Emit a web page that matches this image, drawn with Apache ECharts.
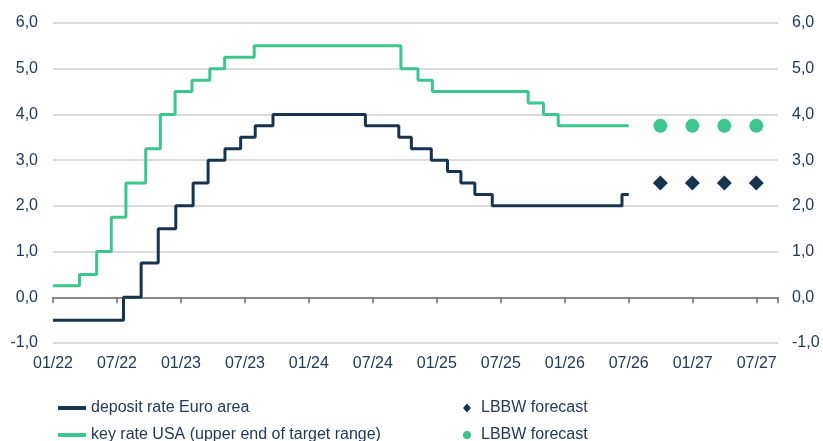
<!DOCTYPE html>
<html>
<head>
<meta charset="utf-8">
<script src="https://cdn.jsdelivr.net/npm/echarts@6/dist/echarts.min.js"></script>
<style>
html,body{margin:0;padding:0;background:#fff;}
#chart{width:823px;height:441px;}
</style>
</head>
<body>
<div id="chart"></div>
<script>
// ---- data (dates of rate changes and new levels) ----
const euroDates = ["2022-01-01","2022-07-20","2022-09-09","2022-10-28","2022-12-17","2023-02-05","2023-03-18","2023-05-05","2023-06-19","2023-07-31","2023-09-20","2024-06-10","2024-09-14","2024-10-20","2024-12-16","2025-02-01","2025-03-09","2025-04-18","2025-06-07","2026-06-12","2026-07-01"];
const euroValues = [-0.5,0.0,0.75,1.5,2.0,2.5,3.0,3.25,3.5,3.75,4.0,3.75,3.5,3.25,3.0,2.75,2.5,2.25,2.0,2.25,2.25];
const usDates = ["2022-01-01","2022-03-16","2022-05-04","2022-06-15","2022-07-27","2022-09-22","2022-11-03","2022-12-15","2023-02-02","2023-03-23","2023-05-04","2023-07-28","2024-09-20","2024-11-08","2024-12-19","2025-09-18","2025-11-01","2025-12-13","2026-07-01"];
const usValues = [0.25,0.5,1.0,1.75,2.5,3.25,4.0,4.5,4.75,5.0,5.25,5.5,5.0,4.75,4.5,4.25,4.0,3.75,3.75];
const forecastDates = ["2026-09-30","2026-12-31","2027-03-31","2027-06-30"];
const forecastEuro = [2.5,2.5,2.5,2.5];
const forecastUS = [3.75,3.75,3.75,3.75];
const tickLabels = ["01/22","07/22","01/23","07/23","01/24","07/24","01/25","07/25","01/26","07/26","01/27","07/27"];

const NAVY = "#163350";
const GREEN = "#3cc68f";
const TEXT = "#22395a";

// convert a date to months since Jan 2022 (fractional by day)
function monthIdx(s){
  const [y,m,d] = s.split("-").map(Number);
  const dim = new Date(Date.UTC(y, m, 0)).getUTCDate();
  return (y-2022)*12 + (m-1) + (d-1)/dim;
}
const pairs = (ds, vs) => ds.map((d,i)=>[monthIdx(d), vs[i]]);

const chart = echarts.init(document.getElementById('chart'), null, {renderer:'canvas'});
const labelMap = {euro:"deposit rate Euro area", us:"key rate USA (upper end of target range)", fcEuro:"LBBW forecast", fcUS:"LBBW forecast"};
const fmtY = v => v.toFixed(1).replace('.', ',');
const fmtX = v => { const i = Math.round(v/6); return tickLabels[i] !== undefined ? tickLabels[i] : ''; };
const FONT = 'Liberation Sans';

chart.setOption({
  animation:false,
  backgroundColor:'#fff',
  grid:{left:53, right:45, top:23, bottom:98, containLabel:false},
  xAxis:[
    {type:'value', min:0, max:68, interval:6, position:'bottom',
     axisLine:{show:false}, axisTick:{show:false}, splitLine:{show:false},
     axisLabel:{formatter:fmtX, margin:13, fontFamily:FONT, fontSize:16, color:TEXT}},
    {type:'value', min:0, max:68, interval:6, position:'bottom',
     axisLine:{show:true, onZero:true, lineStyle:{color:'#6f6f6f', width:1.5}},
     axisTick:{show:true, length:6, inside:false, lineStyle:{color:'#6f6f6f', width:1.5}},
     axisLabel:{show:false}, splitLine:{show:false}}
  ],
  yAxis:[
    {type:'value', min:-1, max:6, interval:1, position:'left',
     axisLine:{show:false}, axisTick:{show:false},
     splitLine:{show:true, lineStyle:{color:'#cfcfcf', width:1.5}},
     axisLabel:{formatter:fmtY, margin:15, fontFamily:FONT, fontSize:16, color:TEXT}},
    {type:'value', min:-1, max:6, interval:1, position:'right',
     axisLine:{show:false}, axisTick:{show:false}, splitLine:{show:false},
     axisLabel:{formatter:fmtY, margin:14, fontFamily:FONT, fontSize:16, color:TEXT}}
  ],
  legend:[
    {orient:'vertical', left:53, top:395, height:80, itemGap:11, itemWidth:28, itemHeight:4,
     formatter:n=>labelMap[n], textStyle:{fontFamily:FONT, fontSize:16, color:TEXT},
     data:[{name:'euro', icon:'rect'},{name:'us', icon:'rect'}]},
    {orient:'vertical', left:458, top:395, height:80, itemGap:11, itemWidth:8, itemHeight:9,
     formatter:n=>labelMap[n], textStyle:{fontFamily:FONT, fontSize:16, color:TEXT, padding:[0,0,0,5]},
     data:[{name:'fcEuro', icon:'diamond'},{name:'fcUS', icon:'circle'}]}
  ],
  series:[
    {name:'us', type:'line', step:'end', xAxisIndex:0, yAxisIndex:0, data:pairs(usDates, usValues),
     showSymbol:false, symbol:'none', lineStyle:{color:GREEN, width:3}, itemStyle:{color:GREEN}},
    {name:'euro', type:'line', step:'end', xAxisIndex:0, yAxisIndex:0, data:pairs(euroDates, euroValues),
     showSymbol:false, symbol:'none', lineStyle:{color:NAVY, width:3}, itemStyle:{color:NAVY}},
    {name:'fcEuro', type:'scatter', xAxisIndex:0, yAxisIndex:0, data:pairs(forecastDates, forecastEuro),
     symbol:'diamond', symbolSize:[15,15], itemStyle:{color:NAVY, opacity:1}},
    {name:'fcUS', type:'scatter', xAxisIndex:0, yAxisIndex:0, data:pairs(forecastDates, forecastUS),
     symbol:'circle', symbolSize:14, itemStyle:{color:GREEN, opacity:1}}
  ]
});
</script>
</body>
</html>
